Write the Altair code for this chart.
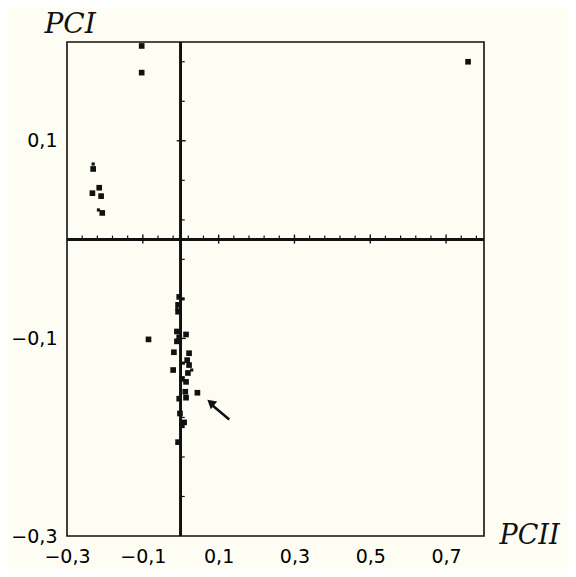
import altair as alt
import pandas as pd

# --- data ---
pt_x = [-0.103, -0.103, 0.758,
        -0.231, -0.215, -0.233, -0.210, -0.207,
        -0.085, 0.044,
        -0.004, -0.007, -0.007, -0.010, 0.014, -0.004, -0.010, -0.018,
        0.022, 0.017, 0.022, -0.020, 0.019, 0.003, 0.014, 0.012,
        -0.004, 0.014, -0.002, 0.009, 0.003, -0.007]
pt_y = [0.196, 0.169, 0.180,
        0.0715, 0.0525, 0.047, 0.044, 0.027,
        -0.101, -0.155,
        -0.058, -0.066, -0.073, -0.093, -0.096, -0.099, -0.103, -0.114,
        -0.115, -0.122, -0.127, -0.132, -0.135, -0.141, -0.144, -0.154,
        -0.161, -0.160, -0.176, -0.185, -0.188, -0.205]

small_x = [-0.231, -0.217, 0.006, -0.010, 0.007, 0.029]
small_y = [0.0765, 0.030, -0.060, -0.070, -0.125, -0.132]

x_minor = [-0.26, -0.22, -0.18, -0.14, -0.06, -0.02, 0.02, 0.06, 0.14, 0.18,
           0.22, 0.26, 0.34, 0.38, 0.42, 0.46, 0.54, 0.58, 0.62, 0.66, 0.74, 0.78]
x_major = [-0.1, 0.1, 0.3, 0.5, 0.7]
y_minor = [-0.26, -0.22, -0.18, -0.14, -0.06, -0.02, 0.02, 0.06, 0.14, 0.18]
y_major = [-0.1, 0.1]

x_labels = [-0.3, -0.1, 0.1, 0.3, 0.5, 0.7]
y_labels = [0.1, -0.1, -0.3]

# arrow annotation (data units)
arrow_tail = (0.128, -0.182)
arrow_head = (0.079, -0.165)

pts = pd.DataFrame({"x": pt_x, "y": pt_y})
small = pd.DataFrame({"x": small_x, "y": small_y})
xmin = pd.DataFrame({"v": x_minor})
xmaj = pd.DataFrame({"v": x_major})
ymin = pd.DataFrame({"v": y_minor})
ymaj = pd.DataFrame({"v": y_major})
arrow = pd.DataFrame({"x": [arrow_tail[0]], "y": [arrow_tail[1]],
                      "x2": [arrow_head[0] + 0.005], "y2": [arrow_head[1] - 0.003]})
head = pd.DataFrame({"x": [arrow_head[0]], "y": [arrow_head[1]]})

lab_expr = "replace(datum.label, '.', ',')"
xscale = alt.Scale(domain=[-0.3, 0.8], nice=False, zero=False)
yscale = alt.Scale(domain=[-0.3, 0.2], nice=False, zero=False)

xaxis = alt.Axis(values=x_labels, ticks=False, domain=False, grid=False,
                 format=".1f", labelExpr=lab_expr, labelFlush=False,
                 labelFont="DejaVu Sans", labelFontSize=19, labelColor="#000",
                 labelPadding=11, title="PCII", titleFont="DejaVu Serif",
                 titleFontStyle="italic", titleFontWeight="normal",
                 titleFontSize=27, titleColor="#111", titleAlign="left",
                 titleBaseline="alphabetic", titleX=432, titleY=7, titleAngle=0)
yaxis = alt.Axis(values=y_labels, ticks=False, domain=False, grid=False,
                 format=".1f", labelExpr=lab_expr, labelFlush=False,
                 labelFont="DejaVu Sans", labelFontSize=19, labelColor="#000",
                 labelPadding=10, title="PCI", titleFont="DejaVu Serif",
                 titleFontStyle="italic", titleFontWeight="normal",
                 titleFontSize=28, titleColor="#111", titleAlign="left",
                 titleBaseline="alphabetic", titleX=-23, titleY=-10, titleAngle=0)

base = alt.Chart(pts).mark_square(size=32, color="#111", opacity=1).encode(
    x=alt.X("x:Q", scale=xscale, axis=xaxis),
    y=alt.Y("y:Q", scale=yscale, axis=yaxis),
)
small_pts = alt.Chart(small).mark_square(size=10, color="#111", opacity=1).encode(
    x="x:Q", y="y:Q")

vline = alt.Chart(pts).mark_rule(color="#111", strokeWidth=1.6).encode(x=alt.datum(0))
hline = alt.Chart(pts).mark_rule(color="#111", strokeWidth=1.6).encode(y=alt.datum(0))

xt_min = alt.Chart(xmin).mark_rule(color="#111", strokeWidth=1.2, yOffset=0, y2Offset=-4).encode(
    x="v:Q", y=alt.datum(0), y2=alt.datum(0))
xt_maj = alt.Chart(xmaj).mark_rule(color="#111", strokeWidth=1.4, yOffset=4, y2Offset=-5).encode(
    x="v:Q", y=alt.datum(0), y2=alt.datum(0))
yt_min = alt.Chart(ymin).mark_rule(color="#111", strokeWidth=1.2, xOffset=0, x2Offset=4).encode(
    y="v:Q", x=alt.datum(0), x2=alt.datum(0))
yt_maj = alt.Chart(ymaj).mark_rule(color="#111", strokeWidth=1.4, xOffset=-4, x2Offset=5).encode(
    y="v:Q", x=alt.datum(0), x2=alt.datum(0))

arrow_shaft = alt.Chart(arrow).mark_rule(color="#111", strokeWidth=2.6).encode(
    x="x:Q", y="y:Q", x2="x2:Q", y2="y2:Q")
arrow_head_m = alt.Chart(head).mark_point(shape="triangle-up", size=100, filled=True,
                                          color="#111", opacity=1, angle=310).encode(
    x="x:Q", y="y:Q")

chart = alt.layer(vline, hline, xt_min, xt_maj, yt_min, yt_maj,
                  base, small_pts, arrow_shaft, arrow_head_m).properties(
    width=417, height=494,
    autosize=alt.AutoSizeParams(type="none"),
    padding={"left": 59, "top": 34, "right": 84, "bottom": 33},
    background="#fdfdf4",
).configure_view(stroke="#111", strokeWidth=1.6)

chart.save("out.html", embed_options={"renderer": "svg", "actions": False})
